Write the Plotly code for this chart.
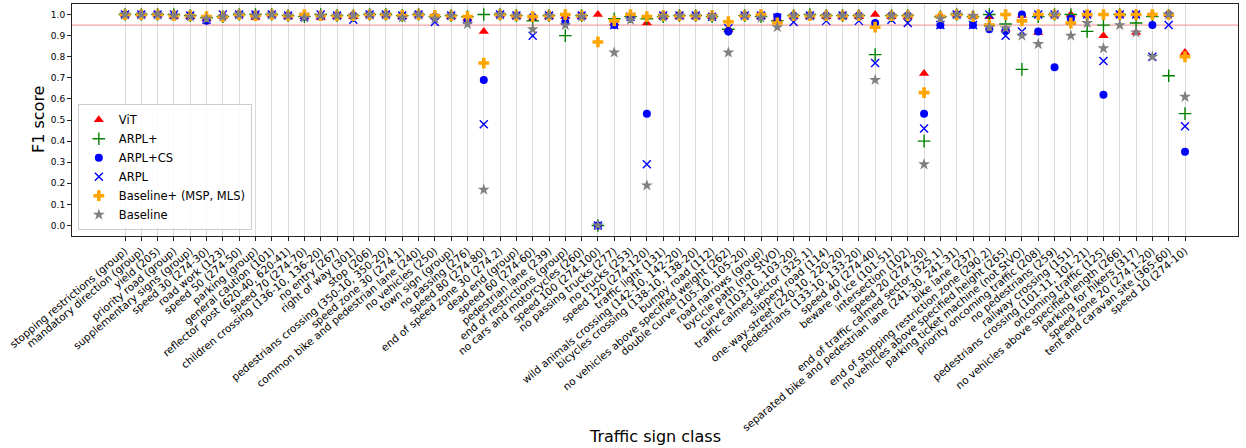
import plotly.graph_objects as go

# Traffic sign classes (x axis)
classes = [
    "stopping restrictions (group)", "mandatory direction (group)", "yield (205)",
    "priority road (group)", "supplementary signs (group)", "speed 30 (274-30)",
    "road work (123)", "speed 50 (274-50)", "parking (group)", "general caution (101)",
    "reflector post (620-40, 620-41)", "speed 70 (274-70)",
    "children crossing (136-10, 136-20)", "no entry (267)", "right of way (301)",
    "stop (206)", "pedestrians crossing (350-10, 350-20)", "speed zone 30 (274.1)",
    "common bike and pedestrian lane (240)", "no vehicles (250)", "town sign (group)",
    "no passing (276)", "speed 80 (274-80)", "end of speed zone 30 (274.2)",
    "dead end (group)", "speed 60 (274-60)", "pedestrian lane (239)",
    "end of restrictions (group)", "no cars and motorcycles (260)",
    "speed 100 (274-100)", "no passing trucks (277)", "no trucks (253)",
    "speed 120 (274-120)", "traffic light (131)",
    "wild animals crossing (142-10, 142-20)", "bicycles crossing (138-10, 138-20)",
    "bumpy road (112)", "no vehicles above specified weight (262)",
    "double curve (105-10, 105-20)", "road narrows (group)", "bycicle path (not StVO)",
    "curve (103-10, 103-20)", "traffic calmed sector (325.1)", "slippery road (114)",
    "one-way-street (220-10, 220-20)", "pedestrians (133-10, 133-20)",
    "speed 40 (274-40)", "beware of ice (101-51)", "intersection (102)",
    "speed 20 (274-20)", "end of traffic calmed sector (325.1)",
    "separated bike and pedestrian lane (241-30, 241-31)", "bike lane (237)",
    "end of stopping restriction zone (290.2)",
    "no vehicles above specified height (265)", "parking ticket machine (not StVO)",
    "priority oncoming traffic (208)", "no pedestrians (259)", "railway crossing (151)",
    "pedestrians crossing (101-11, 101-21)", "oncoming traffic (125)",
    "no vehicles above specified length (266)", "parking for hikers (317)",
    "speed zone 20 (274.1-20)", "tent and caravan site (365-60)", "speed 10 (274-10)",
]

# F1 score per class for each method
vit = [1.0, 1.0, 1.0, 0.99, 0.99, 0.98, 0.99, 1.0, 0.985, 1.0, 0.99, 0.99, 0.985, 0.99,
       0.99, 1.0, 1.0, 0.99, 1.0, 0.99, 0.99, 0.98, 0.92, 1.0, 0.99, 0.98, 0.99, 0.99,
       0.99, 1.0, 0.96, 0.99, 0.96, 0.99, 0.99, 0.99, 0.99, 0.93, 0.995, 0.99, 0.98,
       0.99, 0.99, 0.99, 0.99, 0.99, 1.0, 0.99, 0.99, 0.72, 0.995, 1.0, 0.99, 0.99,
       0.93, 0.995, 0.915, 1.0, 1.0, 1.0, 0.90, 1.0, 0.915, 1.0, 1.0, 0.82]
arpl_plus = [1.0, 1.0, 1.0, 1.0, 0.995, 0.985, 0.99, 1.0, 1.0, 1.0, 0.995, 0.99, 1.0,
             0.995, 0.995, 1.0, 1.0, 0.995, 1.0, 0.99, 0.995, 0.99, 1.0, 1.0, 0.995,
             0.97, 0.995, 0.90, 0.995, 0.0, 0.98, 0.99, 0.98, 0.99, 0.995, 0.995, 0.99,
             0.93, 0.995, 0.99, 0.97, 0.995, 1.0, 0.995, 0.995, 0.995, 0.81, 0.995,
             0.995, 0.40, 0.99, 1.0, 0.99, 1.0, 0.955, 0.74, 0.99, 1.0, 1.0, 0.92, 0.95,
             1.0, 0.96, 0.99, 0.71, 0.53]
arpl_cs = [1.0, 1.0, 1.0, 0.995, 0.995, 0.97, 0.99, 1.0, 1.0, 1.0, 0.995, 0.99, 0.99,
           0.995, 0.995, 1.0, 1.0, 0.995, 1.0, 0.99, 0.995, 0.97, 0.69, 1.0, 0.995,
           0.99, 0.995, 0.965, 0.995, 0.0, 0.95, 0.99, 0.53, 0.995, 0.995, 0.995, 0.99,
           0.92, 0.995, 0.995, 0.99, 0.995, 0.995, 0.995, 0.995, 0.995, 0.96, 0.995,
           0.995, 0.53, 0.95, 1.0, 0.95, 0.93, 0.925, 1.0, 0.92, 0.75, 0.98, 1.0, 0.62,
           1.0, 1.0, 0.95, 1.0, 0.35]
arpl = [1.0, 1.0, 1.0, 1.0, 0.995, 0.975, 1.0, 1.0, 1.0, 1.0, 0.995, 0.99, 1.0, 0.995,
        0.975, 1.0, 1.0, 0.995, 1.0, 0.965, 0.995, 0.975, 0.48, 1.0, 0.995, 0.90, 0.995,
        0.97, 0.995, 0.0, 0.95, 0.99, 0.29, 0.995, 0.995, 0.995, 0.99, 0.935, 0.995,
        0.995, 0.985, 0.965, 0.995, 0.97, 0.995, 0.97, 0.77, 0.975, 0.96, 0.46, 0.95,
        1.0, 0.95, 1.0, 0.90, 0.92, 1.0, 1.0, 0.97, 1.0, 0.78, 1.0, 1.0, 0.80, 0.95,
        0.47]
baseline_plus = [1.0, 1.0, 1.0, 0.995, 0.995, 0.99, 0.99, 1.0, 0.995, 1.0, 0.995, 1.0,
                 0.995, 0.995, 0.995, 1.0, 1.0, 0.995, 1.0, 0.995, 0.995, 0.99, 0.77,
                 1.0, 0.995, 0.99, 0.995, 1.0, 0.995, 0.87, 0.97, 1.0, 0.99, 0.995,
                 0.995, 0.995, 0.995, 0.966, 0.995, 1.0, 0.96, 0.995, 0.995, 0.995,
                 0.995, 0.995, 0.94, 0.995, 0.995, 0.63, 0.99, 1.0, 0.99, 0.95, 1.0, 0.97,
                 1.0, 1.0, 0.96, 1.0, 1.0, 1.0, 1.0, 1.0, 1.0, 0.80]
baseline = [1.0, 1.0, 1.0, 0.995, 0.99, 0.98, 0.99, 1.0, 0.995, 1.0, 0.995, 0.985,
            0.995, 0.995, 0.995, 1.0, 1.0, 0.985, 1.0, 0.98, 0.995, 0.955, 0.17, 1.0,
            0.995, 0.93, 0.995, 0.95, 0.99, 0.0, 0.82, 0.975, 0.19, 0.99, 0.995, 0.995,
            0.99, 0.82, 0.995, 0.985, 0.94, 0.995, 0.995, 0.995, 0.995, 0.995, 0.69,
            0.995, 0.995, 0.29, 0.98, 1.0, 0.995, 0.94, 0.935, 0.90, 0.86, 1.0, 0.90,
            0.96, 0.84, 0.95, 0.915, 0.80, 1.0, 0.61]

threshold = 0.95
y_ticks = [round(i * 0.1, 1) for i in range(11)]

FONT = "DejaVu Sans"
x_idx = list(range(len(classes)))

series = [
    ("ViT", vit, "triangle-up", "red", 9, 0),
    ("ARPL+", arpl_plus, "cross-thin-open", "green", 9, 1.4),
    ("ARPL+CS", arpl_cs, "circle", "blue", 8, 0),
    ("ARPL", arpl, "x-thin-open", "blue", 8, 1.4),
    ("Baseline+ (MSP, MLS)", baseline_plus, "cross", "orange", 9, 0),
    ("Baseline", baseline, "star", "grey", 9, 0),
]

fig = go.Figure()
for name, vals, sym, col, size, lw in series:
    marker = dict(symbol=sym, color=col, size=size)
    if lw:
        marker["line"] = dict(color=col, width=lw)
    else:
        marker["line"] = dict(width=0)
    fig.add_trace(go.Scatter(x=x_idx, y=vals, mode="markers", name=name, marker=marker))

# reference line at the F1 threshold
fig.add_shape(type="line", xref="paper", x0=0, x1=1, yref="y", y0=threshold, y1=threshold,
              line=dict(color="rgba(240,110,110,0.8)", width=1), layer="below")

fig.update_layout(
    width=1246, height=448,
    margin=dict(l=72, r=8, t=4, b=212, autoexpand=False),
    plot_bgcolor="white", paper_bgcolor="white",
    font=dict(family=FONT, size=10, color="black"),
    showlegend=True,
    legend=dict(
        x=0.005, y=0.025, xanchor="left", yanchor="bottom",
        bgcolor="rgba(255,255,255,0.85)", bordercolor="#cccccc", borderwidth=1,
        font=dict(family=FONT, size=11.5), itemwidth=30, tracegroupgap=0,
    ),
    annotations=[
        dict(text="Traffic sign class", xref="paper", yref="paper", x=0.5, y=0,
             yshift=-200, xanchor="center", yanchor="middle", showarrow=False,
             font=dict(family=FONT, size=16)),
        dict(text="F1 score", xref="paper", yref="paper", x=0, y=0.5, xshift=-34,
             xanchor="center", yanchor="middle", textangle=-90, showarrow=False,
             font=dict(family=FONT, size=16)),
    ],
)

fig.update_xaxes(
    range=[-3.25, len(classes) - 1 + 3.25],
    tickmode="array", tickvals=x_idx, ticktext=classes, tickangle=-40,
    tickfont=dict(family=FONT, size=10.5),
    showgrid=True, gridcolor="rgba(176,176,176,0.45)", gridwidth=1,
    showline=True, linecolor="#222", linewidth=1, mirror=True,
    ticks="outside", ticklen=4, tickcolor="#222", zeroline=False, automargin=False,
)
fig.update_yaxes(
    range=[-0.05, 1.05],
    tickmode="array", tickvals=y_ticks, ticktext=[f"{v:.1f}" for v in y_ticks],
    tickfont=dict(family=FONT, size=9),
    showgrid=False, showline=True, linecolor="#222", linewidth=1, mirror=True,
    ticks="outside", ticklen=4, tickcolor="#222", zeroline=False, automargin=False,
)

fig.write_html("out.html")
